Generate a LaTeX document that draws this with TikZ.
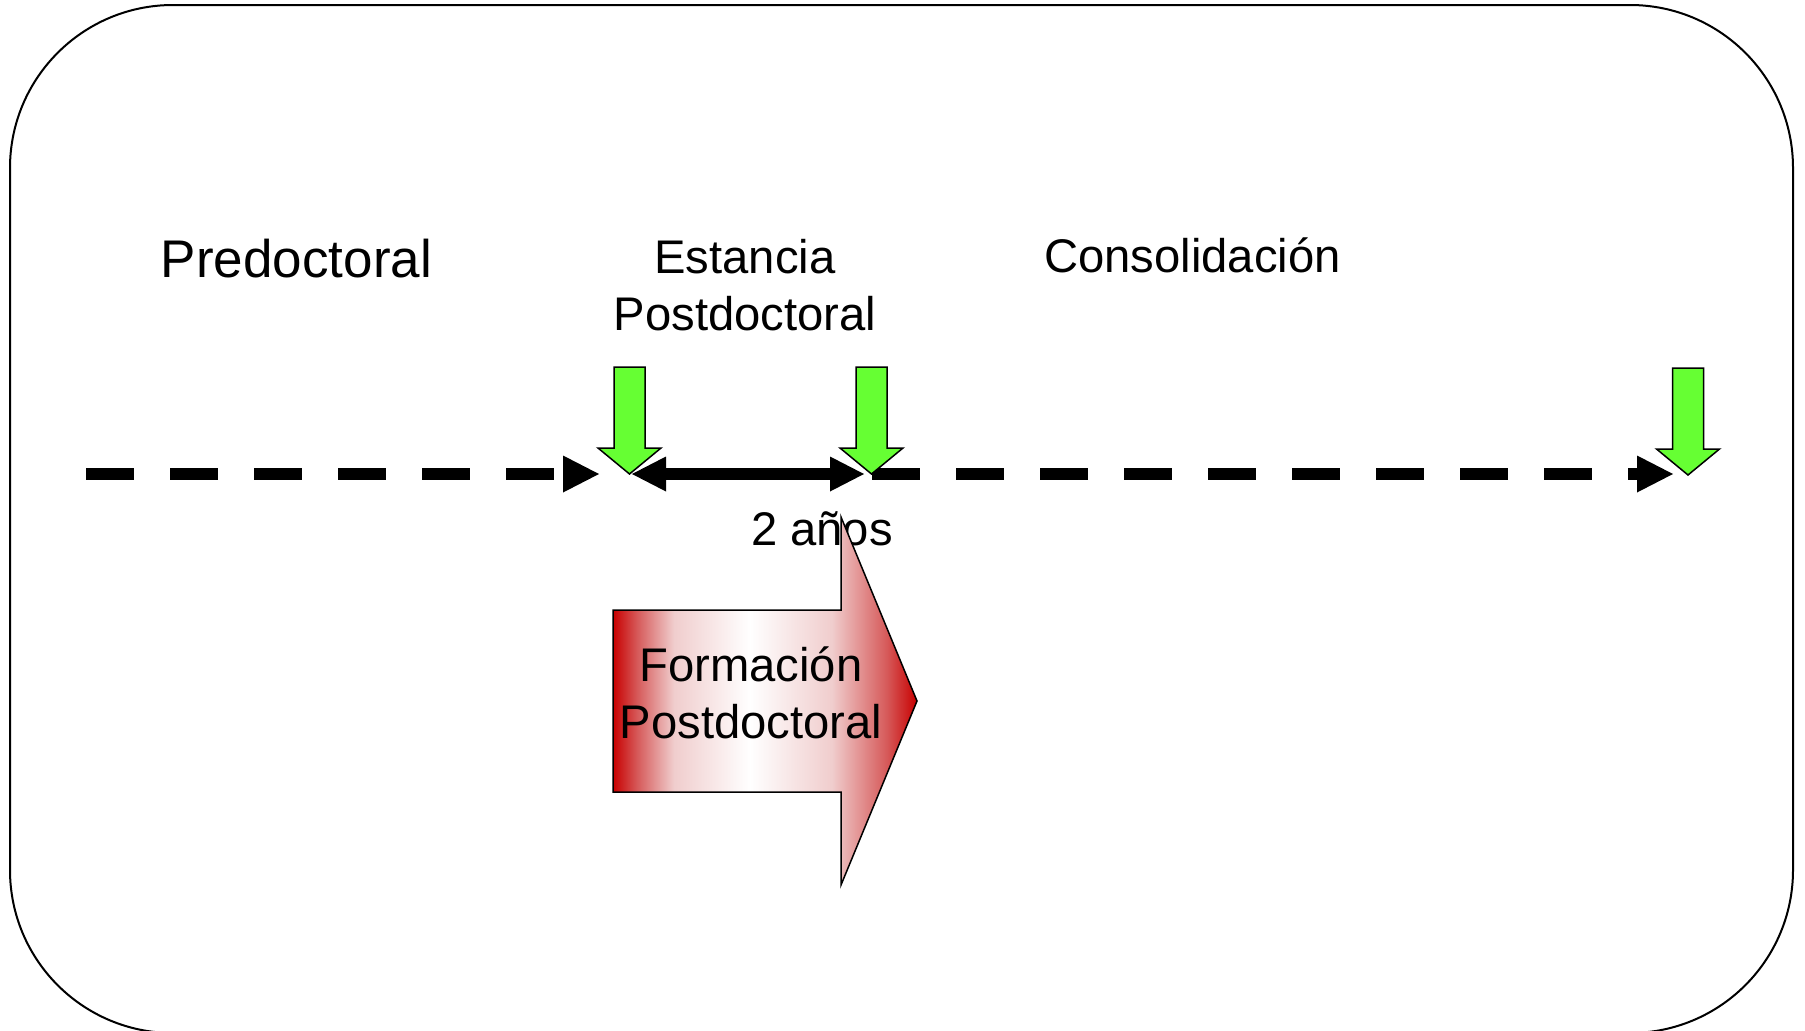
\documentclass[tikz,border=0pt]{standalone}
\usepackage{fontspec}
\setmainfont{Liberation Sans}
\usetikzlibrary{arrows.meta}
\definecolor{arrowgreen}{RGB}{102,255,51}
\definecolor{deepred}{RGB}{200,0,0}
\definecolor{midred}{RGB}{214,90,90}
\definecolor{palered}{RGB}{240,205,205}
\pgfdeclarehorizontalshading{redfade}{100bp}{color(0bp)=(deepred); color(25bp)=(deepred); color(29bp)=(midred); color(35bp)=(palered); color(47.5bp)=(white); color(61bp)=(palered); color(70bp)=(midred); color(75bp)=(deepred); color(100bp)=(deepred)}
\tikzset{
  bigtext/.style={font=\fontsize{53}{60}\selectfont, inner sep=0pt, anchor=base},
  midtext/.style={font=\fontsize{47.2}{57}\selectfont, inner sep=0pt, anchor=base, align=center},
  dashline/.style={line width=12pt, dash pattern=on 48pt off 36pt, -{Triangle[length=36pt,width=37pt,line width=0pt]}},
  spanline/.style={line width=12pt, {Triangle[length=34pt,width=35pt,line width=0pt]}-{Triangle[length=34pt,width=35pt,line width=0pt]}},
  frame/.style={line width=2pt, rounded corners=163pt},
  greenarrow/.pic={
    \draw[fill=arrowgreen, line width=1.5pt, line join=miter]
      (0,0) -- (-31.5,-26) -- (-15.5,-26) -- (-15.5,-107) -- (15.5,-107) -- (15.5,-26) -- (31.5,-26) -- cycle;
  },
  bigarrow/.style={draw, line width=1.5pt, shading=redfade}
}
\begin{document}
\begin{tikzpicture}[x=1pt,y=-1pt]
\useasboundingbox (0,0) rectangle (1805,1031);
\draw[frame] (10,5) rectangle (1793,1033);

% labels
\node[bigtext] (pre) at (296.5,277) {Predoctoral};
\node[midtext] (est) at (745,330) {Estancia\\Postdoctoral};
\node[midtext] (cons) at (1192.5,272) {Consolidación};
\node[midtext] (anos) at (822,545) {2 años};

% timeline
\coordinate (L1s) at (86,474);
\coordinate (L1e) at (599,474);
\coordinate (D1) at (632,474);
\coordinate (D2) at (864,474);
\coordinate (R1s) at (872,474);
\coordinate (R1e) at (1673,474);
\draw[dashline] (L1s) -- (L1e);
\draw[spanline] (D1) -- (D2);
\draw[dashline] (R1s) -- (R1e);

% green markers
\pic (g1) at (629.5,474) {greenarrow};
\pic (g2) at (871.5,474) {greenarrow};
\pic (g3) at (1688,475) {greenarrow};

% big arrow
\path[bigarrow] (613,610) -- (841,610) -- (841,517) -- (917,701) -- (841,885) -- (841,792) -- (613,792) -- cycle;
\node[midtext] (form) at (751,738) {Formación\\Postdoctoral};
\end{tikzpicture}
\end{document}
